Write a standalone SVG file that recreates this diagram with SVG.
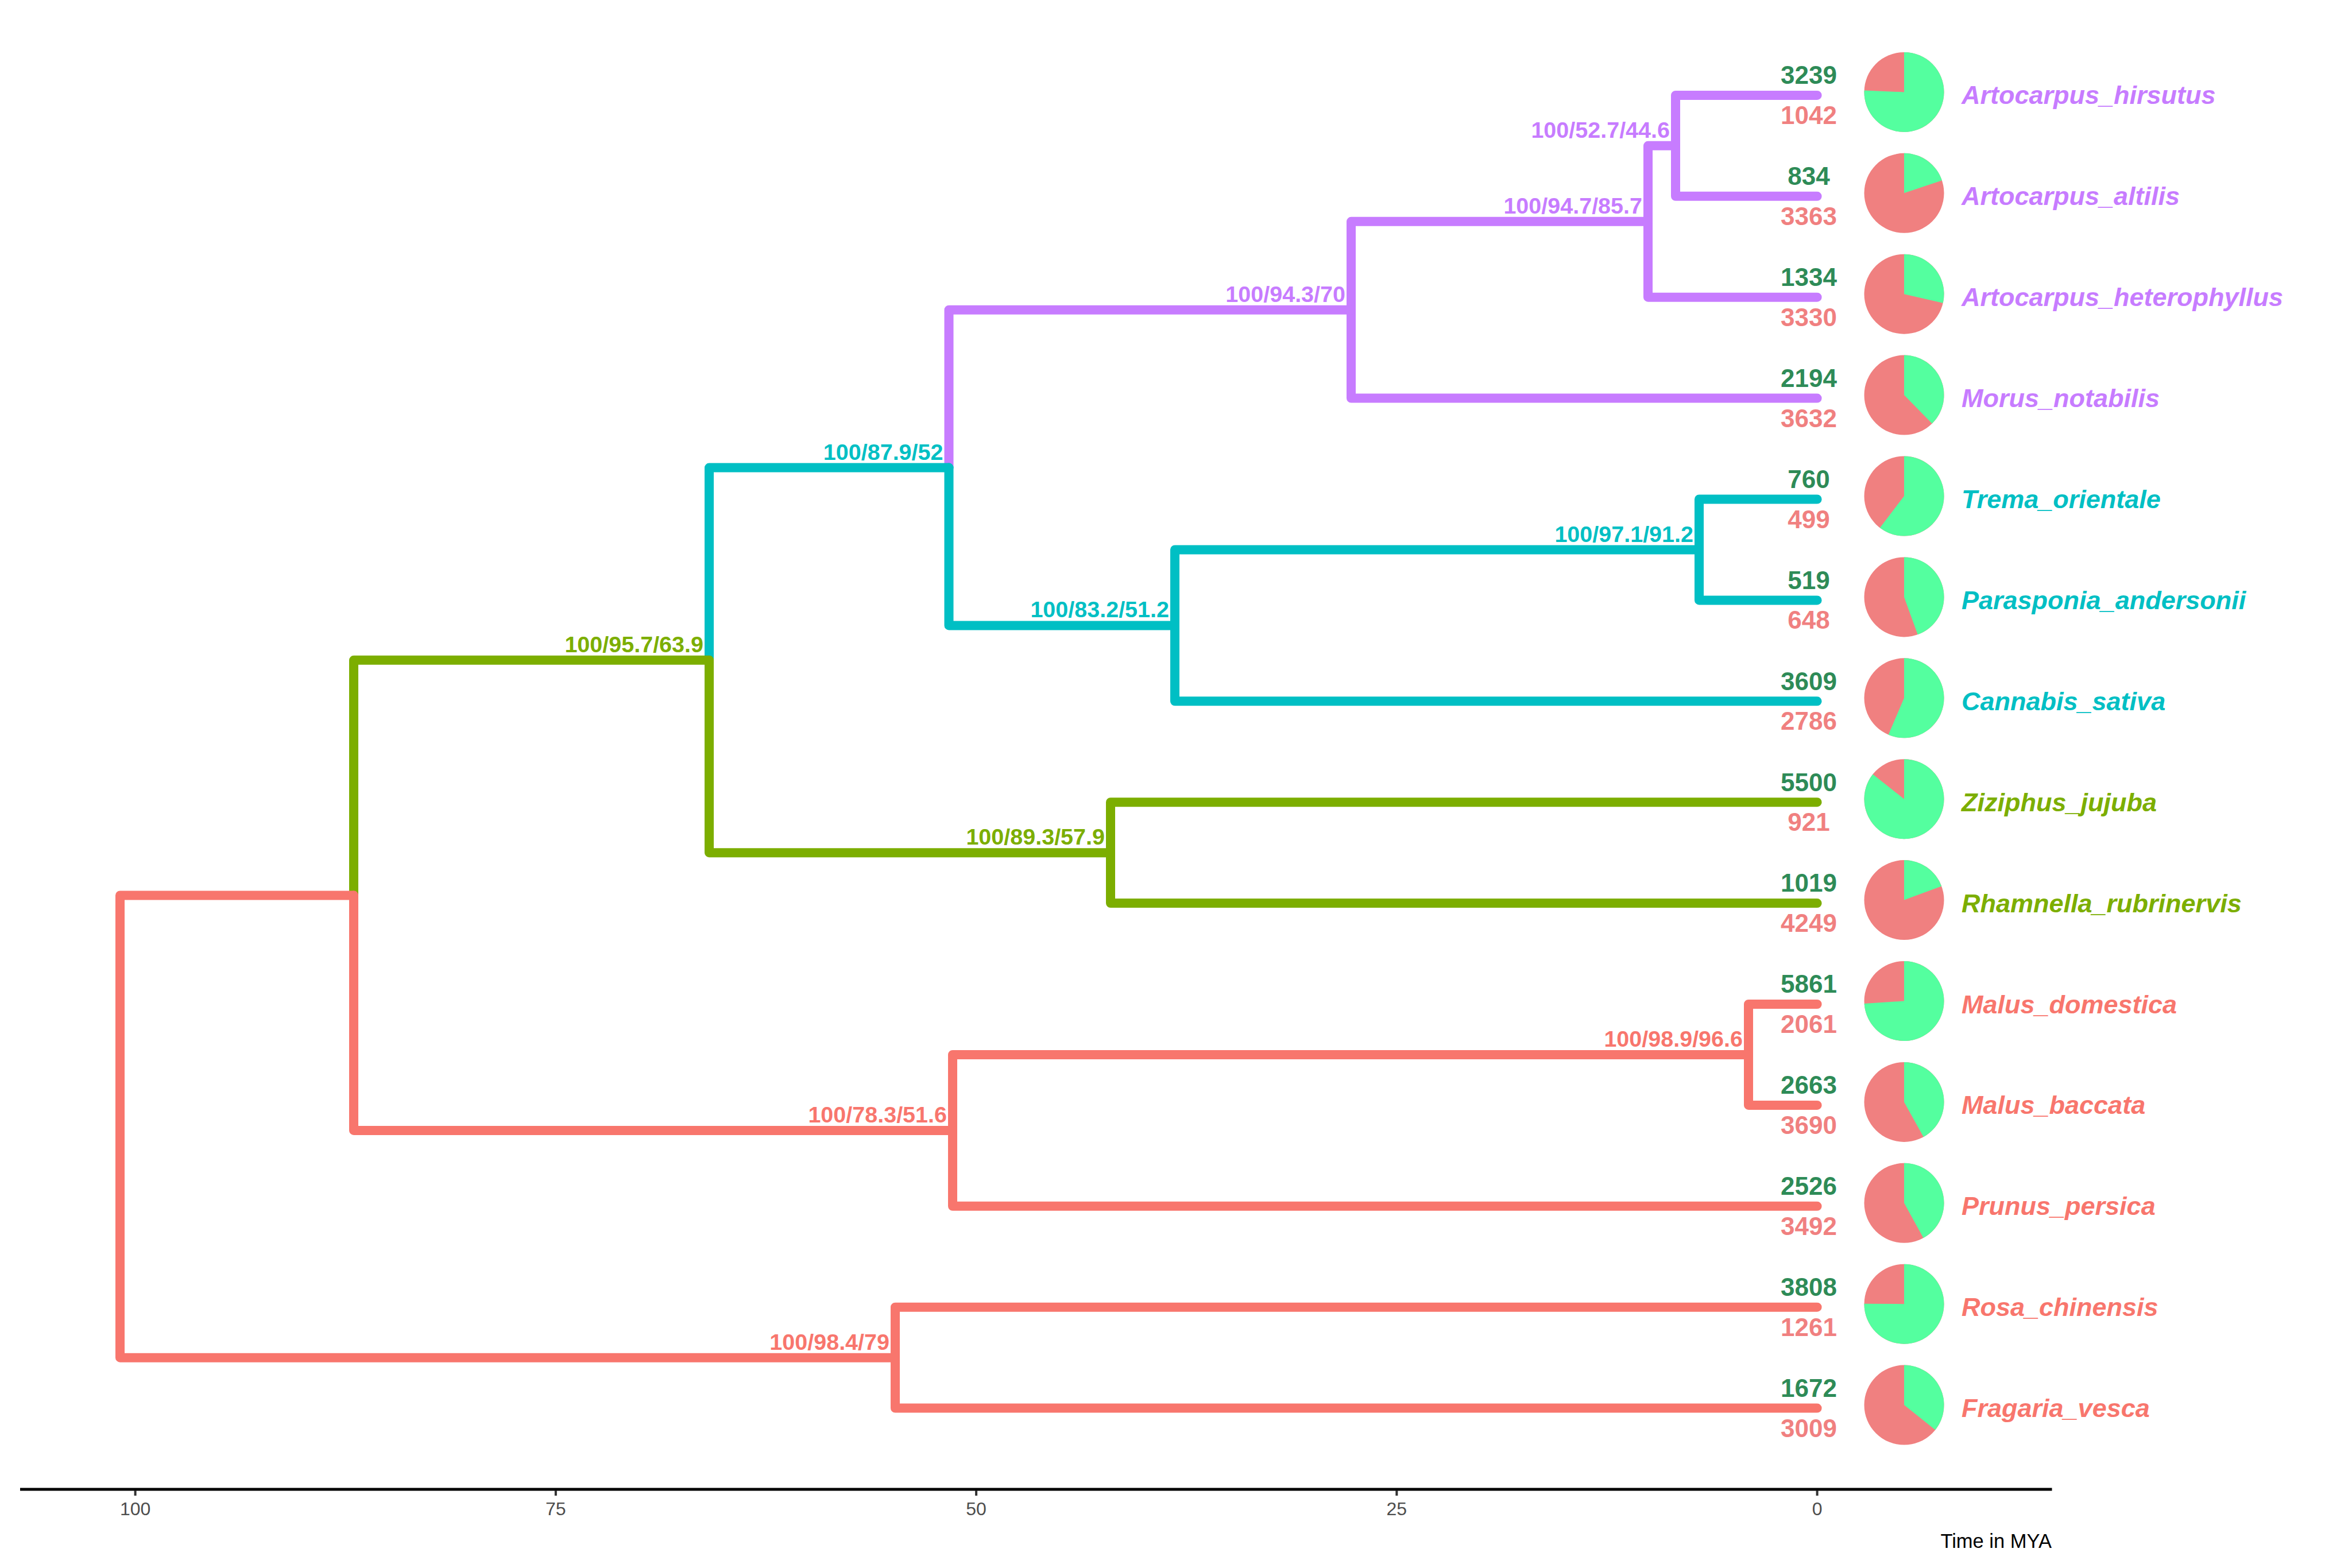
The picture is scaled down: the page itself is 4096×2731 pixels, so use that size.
<svg xmlns="http://www.w3.org/2000/svg" width="4096" height="2731" viewBox="0 0 4096 2731">
<style>
.br{fill:none;stroke-width:16;stroke-linecap:round;stroke-linejoin:round}
.pu{stroke:#C77CFF}.cy{stroke:#00BFC4}.gr{stroke:#7CAE00}.rd{stroke:#F8766D}
.tpu{fill:#C77CFF}.tcy{fill:#00BFC4}.tgr{fill:#7CAE00}.trd{fill:#F8766D}
.tip{font-family:"Liberation Sans",Arial,sans-serif;font-weight:bold;font-style:italic;font-size:45px}
.num{font-family:"Liberation Sans",Arial,sans-serif;font-weight:bold;font-size:44px;text-anchor:middle}
.ng{fill:#2E8B57}.nr{fill:#F08080}
.nl{font-family:"Liberation Sans",Arial,sans-serif;font-weight:bold;font-size:39.5px;text-anchor:end}
.pr{fill:#F08080}.pg{fill:#54FF9F}
.ax{font-family:"Liberation Sans",Arial,sans-serif;font-size:32px;fill:#4D4D4D;text-anchor:middle}
.tk{stroke:#333333;stroke-width:4}
</style>
<rect width="4096" height="2731" fill="#FFFFFF"/>
<g id="connectors">
<path class="br pu" d="M2918 253.85 V165.9 H3164.6"/>
<path class="br pu" d="M2918 253.85 V341.8 H3164.6"/>
<path class="br pu" d="M2870 385.8 V253.85 H2918"/>
<path class="br pu" d="M2870 385.8 V517.7 H3164.6"/>
<path class="br pu" d="M2353 539.7 V385.8 H2870"/>
<path class="br pu" d="M2353 539.7 V693.6 H3164.6"/>
<path class="br pu" d="M1652.5 814.55 V539.7 H2353"/>
<path class="br cy" d="M2959 957.45 V869.5 H3164.6"/>
<path class="br cy" d="M2959 957.45 V1045.4 H3164.6"/>
<path class="br cy" d="M2046 1089.4 V957.45 H2959"/>
<path class="br cy" d="M2046 1089.4 V1221.3 H3164.6"/>
<path class="br cy" d="M1652.5 814.55 V1089.4 H2046"/>
<path class="br cy" d="M1235 1149.85 V814.55 H1652.5"/>
<path class="br gr" d="M1934 1485.15 V1397.2 H3164.6"/>
<path class="br gr" d="M1934 1485.15 V1573.1 H3164.6"/>
<path class="br gr" d="M1235 1149.85 V1485.15 H1934"/>
<path class="br gr" d="M616 1559.4 V1149.85 H1235"/>
<path class="br rd" d="M3045 1836.95 V1749 H3164.6"/>
<path class="br rd" d="M3045 1836.95 V1924.9 H3164.6"/>
<path class="br rd" d="M1659 1968.9 V1836.95 H3045"/>
<path class="br rd" d="M1659 1968.9 V2100.8 H3164.6"/>
<path class="br rd" d="M616 1559.4 V1968.9 H1659"/>
<path class="br rd" d="M1559 2364.65 V2276.7 H3164.6"/>
<path class="br rd" d="M1559 2364.65 V2452.6 H3164.6"/>
<path class="br rd" d="M209 1962 V1559.4 H616"/>
<path class="br rd" d="M209 1962 V2364.65 H1559"/>
</g>
<g id="node-labels">
<g id="n_hir_alt"><text class="nl tpu" x="2908" y="239.9">100/52.7/44.6</text></g>
<g id="n_artocarpus"><text class="nl tpu" x="2860" y="371.8">100/94.7/85.7</text></g>
<g id="n_moraceae"><text class="nl tpu" x="2343" y="525.7">100/94.3/70</text></g>
<g id="n_trema_para"><text class="nl tcy" x="2949" y="943.5">100/97.1/91.2</text></g>
<g id="n_cannabaceae"><text class="nl tcy" x="2036" y="1075.4">100/83.2/51.2</text></g>
<g id="n_urticalean"><text class="nl tcy" x="1642.5" y="800.6">100/87.9/52</text></g>
<g id="n_rhamnaceae"><text class="nl tgr" x="1924" y="1471.2">100/89.3/57.9</text></g>
<g id="n_urt_rha"><text class="nl tgr" x="1225" y="1135.9">100/95.7/63.9</text></g>
<g id="n_malus"><text class="nl trd" x="3035" y="1823">100/98.9/96.6</text></g>
<g id="n_malus_prunus"><text class="nl trd" x="1649" y="1954.9">100/78.3/51.6</text></g>
<g id="n_rosa_fragaria"><text class="nl trd" x="1549" y="2350.7">100/98.4/79</text></g>
</g>
<g id="tip-Artocarpus_hirsutus">
<text class="num ng" x="3150" y="146.2">3239</text><text class="num nr" x="3150" y="215.9">1042</text>
<circle class="pr" cx="3316" cy="160.4" r="69.5"/><path class="pg" d="M3316 160.4 V90.9 A69.5 69.5 0 1 1 3246.56 157.51 Z"/>
<text class="tip tpu" x="3416" y="181.4">Artocarpus_hirsutus</text>
</g>
<g id="tip-Artocarpus_altilis">
<text class="num ng" x="3150" y="322.1">834</text><text class="num nr" x="3150" y="391.8">3363</text>
<circle class="pr" cx="3316" cy="336.3" r="69.5"/><path class="pg" d="M3316 336.3 V266.8 A69.5 69.5 0 0 1 3381.92 314.29 Z"/>
<text class="tip tpu" x="3416" y="357.3">Artocarpus_altilis</text>
</g>
<g id="tip-Artocarpus_heterophyllus">
<text class="num ng" x="3150" y="498.0">1334</text><text class="num nr" x="3150" y="567.7">3330</text>
<circle class="pr" cx="3316" cy="512.2" r="69.5"/><path class="pg" d="M3316 512.2 V442.7 A69.5 69.5 0 0 1 3383.73 527.80 Z"/>
<text class="tip tpu" x="3416" y="533.2">Artocarpus_heterophyllus</text>
</g>
<g id="tip-Morus_notabilis">
<text class="num ng" x="3150" y="673.9">2194</text><text class="num nr" x="3150" y="743.6">3632</text>
<circle class="pr" cx="3316" cy="688.1" r="69.5"/><path class="pg" d="M3316 688.1 V618.6 A69.5 69.5 0 0 1 3364.66 737.73 Z"/>
<text class="tip tpu" x="3416" y="709.1">Morus_notabilis</text>
</g>
<g id="tip-Trema_orientale">
<text class="num ng" x="3150" y="849.8">760</text><text class="num nr" x="3150" y="919.5">499</text>
<circle class="pr" cx="3316" cy="864.0" r="69.5"/><path class="pg" d="M3316 864.0 V794.5 A69.5 69.5 0 1 1 3273.88 919.28 Z"/>
<text class="tip tcy" x="3416" y="885.0">Trema_orientale</text>
</g>
<g id="tip-Parasponia_andersonii">
<text class="num ng" x="3150" y="1025.7">519</text><text class="num nr" x="3150" y="1095.4">648</text>
<circle class="pr" cx="3316" cy="1039.9" r="69.5"/><path class="pg" d="M3316 1039.9 V970.4 A69.5 69.5 0 0 1 3339.66 1105.25 Z"/>
<text class="tip tcy" x="3416" y="1060.9">Parasponia_andersonii</text>
</g>
<g id="tip-Cannabis_sativa">
<text class="num ng" x="3150" y="1201.6">3609</text><text class="num nr" x="3150" y="1271.3">2786</text>
<circle class="pr" cx="3316" cy="1215.8" r="69.5"/><path class="pg" d="M3316 1215.8 V1146.3 A69.5 69.5 0 1 1 3288.65 1279.69 Z"/>
<text class="tip tcy" x="3416" y="1236.8">Cannabis_sativa</text>
</g>
<g id="tip-Ziziphus_jujuba">
<text class="num ng" x="3150" y="1377.5">5500</text><text class="num nr" x="3150" y="1447.2">921</text>
<circle class="pr" cx="3316" cy="1391.7" r="69.5"/><path class="pg" d="M3316 1391.7 V1322.2 A69.5 69.5 0 1 1 3261.51 1348.56 Z"/>
<text class="tip tgr" x="3416" y="1412.7">Ziziphus_jujuba</text>
</g>
<g id="tip-Rhamnella_rubrinervis">
<text class="num ng" x="3150" y="1553.4">1019</text><text class="num nr" x="3150" y="1623.1">4249</text>
<circle class="pr" cx="3316" cy="1567.6" r="69.5"/><path class="pg" d="M3316 1567.6 V1498.1 A69.5 69.5 0 0 1 3381.16 1543.42 Z"/>
<text class="tip tgr" x="3416" y="1588.6">Rhamnella_rubrinervis</text>
</g>
<g id="tip-Malus_domestica">
<text class="num ng" x="3150" y="1729.3">5861</text><text class="num nr" x="3150" y="1799.0">2061</text>
<circle class="pr" cx="3316" cy="1743.5" r="69.5"/><path class="pg" d="M3316 1743.5 V1674.0 A69.5 69.5 0 1 1 3246.64 1747.94 Z"/>
<text class="tip trd" x="3416" y="1764.5">Malus_domestica</text>
</g>
<g id="tip-Malus_baccata">
<text class="num ng" x="3150" y="1905.2">2663</text><text class="num nr" x="3150" y="1974.9">3690</text>
<circle class="pr" cx="3316" cy="1919.4" r="69.5"/><path class="pg" d="M3316 1919.4 V1849.9 A69.5 69.5 0 0 1 3349.80 1980.13 Z"/>
<text class="tip trd" x="3416" y="1940.4">Malus_baccata</text>
</g>
<g id="tip-Prunus_persica">
<text class="num ng" x="3150" y="2081.1">2526</text><text class="num nr" x="3150" y="2150.8">3492</text>
<circle class="pr" cx="3316" cy="2095.3" r="69.5"/><path class="pg" d="M3316 2095.3 V2025.8 A69.5 69.5 0 0 1 3349.57 2156.15 Z"/>
<text class="tip trd" x="3416" y="2116.3">Prunus_persica</text>
</g>
<g id="tip-Rosa_chinensis">
<text class="num ng" x="3150" y="2257.0">3808</text><text class="num nr" x="3150" y="2326.7">1261</text>
<circle class="pr" cx="3316" cy="2271.2" r="69.5"/><path class="pg" d="M3316 2271.2 V2201.7 A69.5 69.5 0 1 1 3246.50 2270.67 Z"/>
<text class="tip trd" x="3416" y="2292.2">Rosa_chinensis</text>
</g>
<g id="tip-Fragaria_vesca">
<text class="num ng" x="3150" y="2432.9">1672</text><text class="num nr" x="3150" y="2502.6">3009</text>
<circle class="pr" cx="3316" cy="2447.1" r="69.5"/><path class="pg" d="M3316 2447.1 V2377.6 A69.5 69.5 0 0 1 3370.32 2490.46 Z"/>
<text class="tip trd" x="3416" y="2468.1">Fragaria_vesca</text>
</g>
<g id="axis">
<line x1="35" y1="2594" x2="3573.5" y2="2594" stroke="#000000" stroke-width="4.8"/>
<line class="tk" x1="235.6" y1="2596" x2="235.6" y2="2605"/>
<line class="tk" x1="967.85" y1="2596" x2="967.85" y2="2605"/>
<line class="tk" x1="1700.1" y1="2596" x2="1700.1" y2="2605"/>
<line class="tk" x1="2432.35" y1="2596" x2="2432.35" y2="2605"/>
<line class="tk" x1="3164.6" y1="2596" x2="3164.6" y2="2605"/>
<text class="ax" x="235.6" y="2639">100</text>
<text class="ax" x="967.85" y="2639">75</text>
<text class="ax" x="1700.1" y="2639">50</text>
<text class="ax" x="2432.35" y="2639">25</text>
<text class="ax" x="3164.6" y="2639">0</text>
<text x="3573" y="2696" font-family="Liberation Sans, Arial, sans-serif" font-size="34.5" fill="#000000" text-anchor="end">Time in MYA</text>
</g>
</svg>
